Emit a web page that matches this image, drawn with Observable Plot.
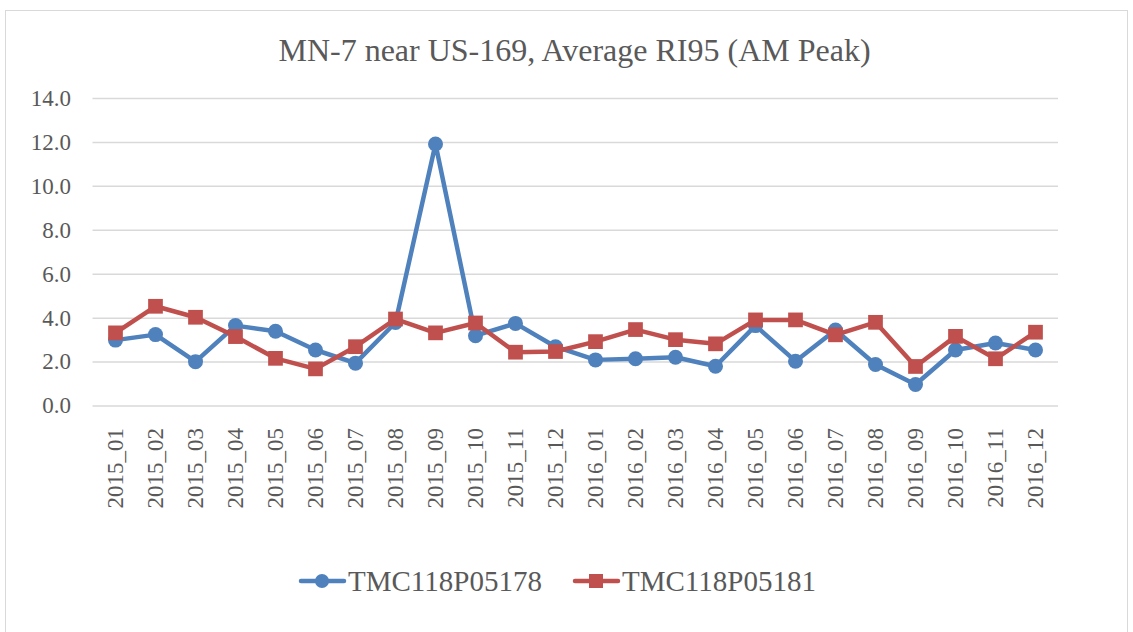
<!DOCTYPE html>
<html><head><meta charset="utf-8">
<script src="https://cdn.jsdelivr.net/npm/d3@7"></script>
<script src="https://cdn.jsdelivr.net/npm/@observablehq/plot@0.6"></script>
<style>
body{margin:0;background:#fff;font-family:"Liberation Serif",serif;}
#frame{position:absolute;left:5px;top:10px;width:1123px;height:640px;border:1.5px solid #d9d9d9;box-sizing:border-box;}
#title{position:absolute;left:0;top:32px;width:1149px;text-align:center;font-size:32px;line-height:37px;color:#595959;white-space:nowrap;}
#chart{position:absolute;left:0;top:0;}
#legend{position:absolute;top:565px;left:0;width:1133px;height:32px;font-size:29px;line-height:32px;color:#595959;}
.item{position:absolute;top:0;display:flex;align-items:center;height:32px;}
.item svg{display:block;}
</style></head>
<body>
<div id="frame"></div>
<div id="title">MN-7 near US-169, Average RI95 (AM Peak)</div>
<div id="chart"></div>
<div id="legend"></div>
<script>
const months = ["2015_01","2015_02","2015_03","2015_04","2015_05","2015_06","2015_07","2015_08","2015_09","2015_10","2015_11","2015_12","2016_01","2016_02","2016_03","2016_04","2016_05","2016_06","2016_07","2016_08","2016_09","2016_10","2016_11","2016_12"];
const seriesNames = ["TMC118P05178","TMC118P05181"];
const tmc05178 = [3.0,3.25,2.02,3.66,3.4,2.55,1.95,3.8,11.93,3.2,3.76,2.7,2.1,2.15,2.22,1.81,3.66,2.04,3.46,1.89,0.98,2.55,2.87,2.55];
const tmc05181 = [3.33,4.54,4.04,3.16,2.17,1.69,2.7,3.96,3.33,3.78,2.45,2.48,2.93,3.48,3.02,2.83,3.92,3.92,3.24,3.81,1.8,3.17,2.15,3.36];
const yTicks = [0,2,4,6,8,10,12,14];
const colors = ["#4f81bd","#c0504d"];

const data = [];
months.forEach((m,i)=>{
  data.push({month:m, value:tmc05178[i], series:seriesNames[0]});
  data.push({month:m, value:tmc05181[i], series:seriesNames[1]});
});
const s1 = data.filter(d=>d.series===seriesNames[0]);
const s2 = data.filter(d=>d.series===seriesNames[1]);

const chart = Plot.plot({
  width:1133, height:540,
  marginTop:98, marginBottom:134.5, marginLeft:92.5, marginRight:75,
  style:{fontFamily:"Liberation Serif, serif", fontSize:"23px", color:"#595959", background:"transparent"},
  x:{type:"band", domain:months, padding:0, label:null},
  y:{domain:[0,14], label:null},
  marks:[
    Plot.gridY(yTicks,{stroke:"#d9d9d9", strokeOpacity:1, strokeWidth:1.5}),
    Plot.axisY(yTicks,{tickSize:0, tickPadding:22, tickFormat:d=>d.toFixed(1), fontSize:23, fill:"#595959", label:null}),
    Plot.axisX({tickSize:0, tickRotate:-90, tickPadding:22, fontSize:23, fill:"#595959", label:null}),
    Plot.line(s1,{x:"month", y:"value", stroke:colors[0], strokeWidth:4.5}),
    Plot.line(s2,{x:"month", y:"value", stroke:colors[1], strokeWidth:4.5}),
    Plot.dot(s1,{x:"month", y:"value", fill:colors[0], r:7.5, symbol:"circle"}),
    Plot.dot(s2,{x:"month", y:"value", fill:colors[1], r:8.3, symbol:"square"})
  ]
});
document.getElementById("chart").appendChild(chart);

const legend = document.getElementById("legend");
const positions = [298, 572];
seriesNames.forEach((name,i)=>{
  const item = document.createElement("div");
  item.className = "item";
  item.style.left = positions[i]+"px";
  const sym = i===0
    ? `<circle cx="24" cy="16" r="7" fill="${colors[0]}"/>`
    : `<rect x="17" y="9" width="14" height="14" fill="${colors[1]}"/>`;
  item.innerHTML = `<svg width="50" height="32"><line x1="3" x2="46" y1="16" y2="16" stroke="${colors[i]}" stroke-width="4.5" stroke-linecap="round"/>${sym}</svg><span>${name}</span>`;
  legend.appendChild(item);
});
</script>
</body></html>
